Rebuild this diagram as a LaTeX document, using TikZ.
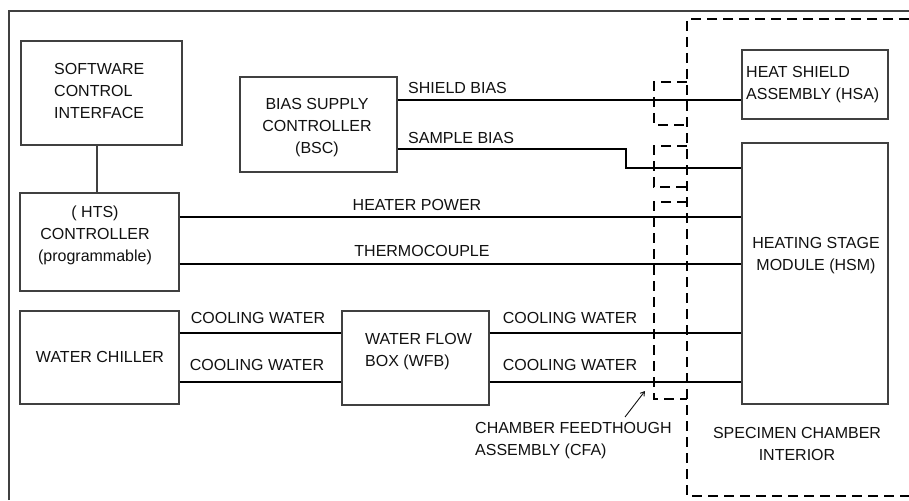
\documentclass[tikz,border=0pt]{standalone}
\usepackage{fontspec}
\setmainfont{Liberation Sans}
\usetikzlibrary{arrows.meta}
\definecolor{boxgray}{HTML}{404040}
\definecolor{textblack}{HTML}{111111}
\begin{document}
\begin{tikzpicture}[x=1pt,y=-1pt,
  box/.style={draw=boxgray,line width=1.2pt,inner sep=0pt},
  txt/.style={inner sep=0pt,font=\fontsize{16}{22}\selectfont,text=textblack},
  sig/.style={line width=2pt,draw=black},
  chamber/.style={line width=2.5pt,draw=black,dash pattern=on 10pt off 6pt},
  frame/.style={line width=1.2pt,draw=boxgray}]
\useasboundingbox (0,0) rectangle (909,500);
\fill[white] (0,0) rectangle (909,500);

% outer frame
\draw[frame] (9,500) -- (9,11) -- (909,11);

% boxes
\node[box,minimum width=161pt,minimum height=104pt] (sci) at (101.5,93) {};
\node[box,minimum width=157pt,minimum height=95pt] (bsc) at (318.5,124.5) {};
\node[box,minimum width=159pt,minimum height=98pt] (hts) at (99.5,242) {};
\node[box,minimum width=159pt,minimum height=93pt] (chiller) at (99.5,357.5) {};
\node[box,minimum width=147pt,minimum height=94pt] (wfb) at (415.5,358) {};
\node[box,minimum width=146pt,minimum height=69pt] (hsa) at (815,84.5) {};
\node[box,minimum width=146pt,minimum height=261pt] (hsm) at (815,273.5) {};

% box texts
\node[txt,anchor=west,align=left] (scit) at (54,91) {SOFTWARE\\CONTROL\\INTERFACE};
\node[txt,align=center] (bsct) at (317,128) {BIAS SUPPLY\\CONTROLLER\\(BSC)};
\node[txt,align=center] (htst) at (95,235) {( HTS)\\CONTROLLER\\(programmable)};
\node[txt] (chillert) at (100,357) {WATER CHILLER};
\node[txt,anchor=west,align=left] (wfbt) at (365,352) {WATER FLOW\\BOX (WFB)};
\node[txt,anchor=west,align=left] (hsat) at (746,85) {HEAT SHIELD\\ASSEMBLY (HSA)};
\node[txt,align=center] (hsmt) at (816,256) {HEATING STAGE\\MODULE (HSM)};
\node[txt,align=center] (spec) at (797,444) {SPECIMEN CHAMBER\\INTERIOR};
\node[txt,anchor=west,align=left] (cfa) at (475,441) {CHAMBER FEEDTHOUGH\\ASSEMBLY (CFA)};

% chamber boundary
\draw[chamber] (909,19) -- (687,19) -- (687,496) -- (909,496);
% feedthrough assembly
\draw[chamber] (687,82) -- (654,82) -- (654,125) -- (687,125);
\draw[chamber] (687,146) -- (654,146) -- (654,187) -- (687,187);
\draw[chamber] (687,202) -- (654,202) -- (654,399) -- (687,399);

% connectors
\draw[frame] (sci.south -| 97,0) -- (hts.north -| 97,0);
\draw[sig] (bsc.east |- 0,100) -- (hsa.west |- 0,100);
\draw[sig] (bsc.east |- 0,149) -- (626,149) -- (626,168) -- (hsm.west |- 0,168);
\draw[sig] (hts.east |- 0,217) -- (hsm.west |- 0,217);
\draw[sig] (hts.east |- 0,264) -- (hsm.west |- 0,264);
\draw[sig] (chiller.east |- 0,333) -- (wfb.west |- 0,333);
\draw[sig] (chiller.east |- 0,382) -- (wfb.west |- 0,382);
\draw[sig] (wfb.east |- 0,333) -- (hsm.west |- 0,333);
\draw[sig] (wfb.east |- 0,382) -- (hsm.west |- 0,382);

% connector labels
\node[txt,anchor=west] (lshield) at (408,88) {SHIELD BIAS};
\node[txt,anchor=west] (lsample) at (408,138) {SAMPLE BIAS};
\node[txt] (lheat) at (417,205) {HEATER POWER};
\node[txt] (lthermo) at (422,251) {THERMOCOUPLE};
\node[txt] (lcw1) at (258,318) {COOLING WATER};
\node[txt] (lcw2) at (257,365) {COOLING WATER};
\node[txt] (lcw3) at (570,318) {COOLING WATER};
\node[txt] (lcw4) at (570,365) {COOLING WATER};

% pointer to feedthrough
\coordinate (cfatail) at (625,417);
\coordinate (cfatip) at (645,391);
\draw[line width=0.9pt,draw=textblack,-{Straight Barb[length=4pt,width=5pt]}] (cfatail) -- (cfatip);
\end{tikzpicture}
\end{document}
